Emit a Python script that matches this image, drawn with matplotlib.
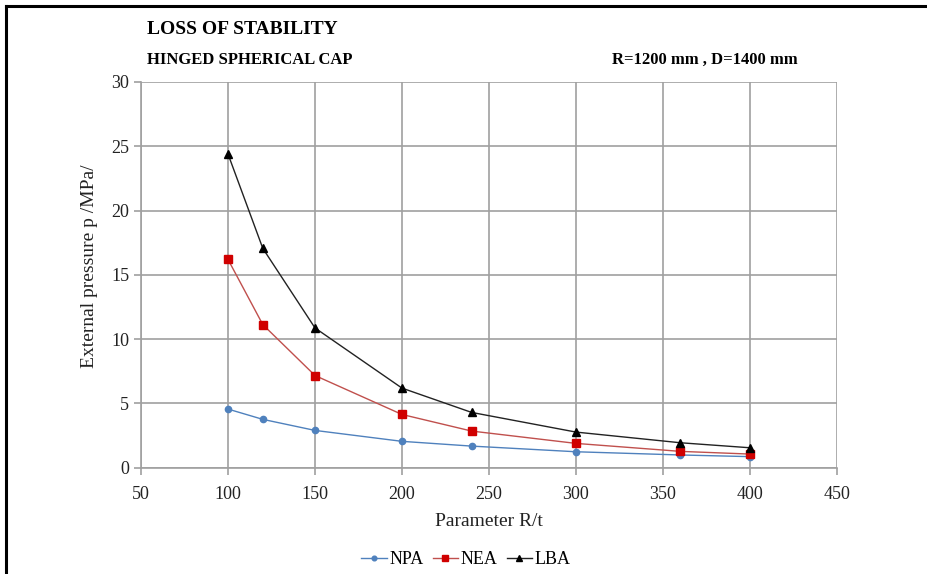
# Loss of stability of a hinged spherical cap: critical pressure vs R/t

import numpy as np
from matplotlib import pyplot as plt
from matplotlib.lines import Line2D

# Data
rt = [100, 120, 150, 200, 240, 300, 360, 400]
npa = [4.56, 3.76, 2.90, 2.05, 1.68, 1.24, 0.99, 0.86]
nea = [16.2, 11.13, 7.17, 4.14, 2.85, 1.89, 1.27, 1.06]
lba = [24.4, 17.06, 10.87, 6.19, 4.30, 2.77, 1.94, 1.55]
xticks = [50, 100, 150, 200, 250, 300, 350, 400, 450]
yticks = [0, 5, 10, 15, 20, 25, 30]

plt.rcParams['font.family'] = ['Liberation Serif', 'DejaVu Serif']

W, H = 928, 574
fig = plt.figure(figsize=(W/100, H/100), dpi=100)
ax = fig.add_axes([141/W, 1 - 467.7/H, (837-141)/W, (467.7-82)/H])

ax.plot(rt, npa, color="#4f81bd", lw=1.0, marker="o", ms=4.5, label="NPA")
ax.plot(rt, nea, color="#c0504d", lw=1.0, marker="s", ms=5.5,
        mfc="#d00000", mec="#d00000", label="NEA")
ax.plot(rt, lba, color="#222222", lw=1.0, marker="^", ms=5.5,
        mfc="black", mec="black", label="LBA")

ax.set_xlim(50, 450)
ax.set_ylim(0, 30)
ax.set_xticks(xticks)
ax.set_yticks(yticks)
ax.grid(True, color="#a0a0a0", lw=1.2)
ax.set_axisbelow(True)
for s in ["top", "right"]:
    ax.spines[s].set_visible(False)
for s in ["left", "bottom"]:
    ax.spines[s].set_color("#a0a0a0")
    ax.spines[s].set_linewidth(1.2)
ax.tick_params(axis="both", colors="#a0a0a0", length=5, width=1.2,
               labelsize=13, labelcolor="#222222")
ax.tick_params(axis="x", pad=8)

ax.set_xlabel("Parameter R/t", fontsize=14, color="#222222")
ax.set_ylabel("External pressure p /MPa/", fontsize=14, color="#222222")
# place labels where they sit in the original
ax.xaxis.set_label_coords((489-141)/696, -(521-467.7)/385.7)
ax.yaxis.set_label_coords(-(141-90)/696, (467.7-266)/385.7)
ax.xaxis.label.set_va("center")
ax.yaxis.label.set_va("center")

fig.text(147/W, 1 - 30/H, "LOSS OF STABILITY", fontsize=14,
         fontweight="bold", va="center", ha="left")
fig.text(147/W, 1 - 60/H, "HINGED SPHERICAL CAP", fontsize=12,
         fontweight="bold", va="center", ha="left")
fig.text(798/W, 1 - 60/H, "R=1200 mm , D=1400 mm", fontsize=12,
         fontweight="bold", va="center", ha="right")

leg = fig.legend(loc="center", bbox_to_anchor=(466/W, 1 - 560/H), ncol=3,
                 frameon=False, fontsize=13, handlelength=1.4,
                 columnspacing=0.5, handletextpad=0.15, markerscale=0.75)

# Frame lines (top and left only)
fig.add_artist(Line2D([6/W, 6/W], [0, 1 - 6/H], color="black", lw=2.2))
fig.add_artist(Line2D([6/W, 1], [1 - 6/H, 1 - 6/H], color="black", lw=2.2))

fig.savefig("out.png", dpi=100)
